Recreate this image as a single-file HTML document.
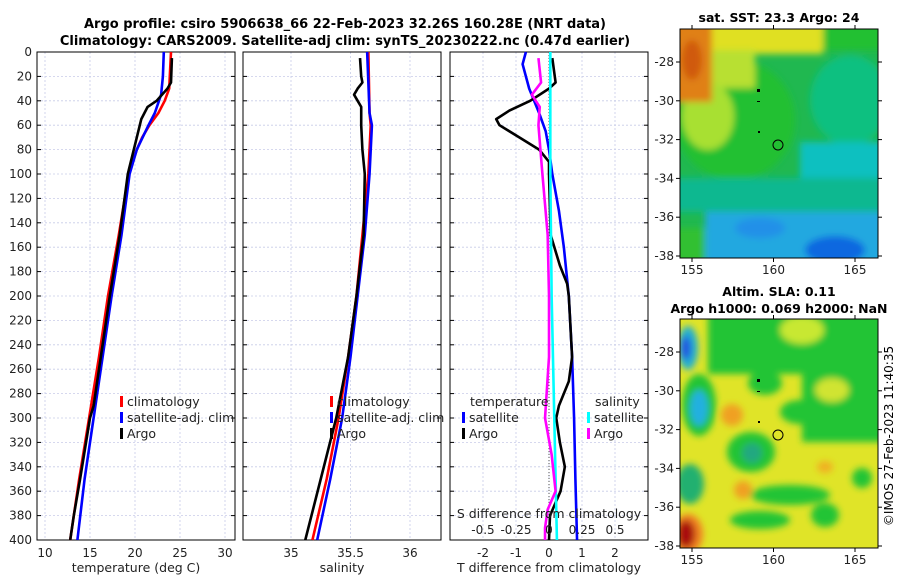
<!DOCTYPE html>
<html><head><meta charset="utf-8"><style>
body{margin:0;background:#fff;}
svg{font-family:"DejaVu Sans","Liberation Sans",sans-serif;}
</style></head><body>
<svg id="c" width="900" height="580" xmlns="http://www.w3.org/2000/svg">
<defs>
<filter id="bl" x="-50%" y="-50%" width="200%" height="200%"><feGaussianBlur stdDeviation="3.5"/></filter>
<clipPath id="cm1"><rect x="680" y="29" width="198" height="229"/></clipPath>
<clipPath id="cm2"><rect x="680" y="319" width="198" height="229"/></clipPath>
</defs>
<text x="345" y="28" text-anchor="middle" font-size="13" font-weight="bold">Argo profile: csiro 5906638_66 22-Feb-2023 32.26S 160.28E (NRT data)</text>
<text x="345" y="45" text-anchor="middle" font-size="13" font-weight="bold">Climatology: CARS2009. Satellite-adj clim: synTS_20230222.nc (0.47d earlier)</text>
<g id="maps">
<g clip-path="url(#cm1)">
<rect x="670" y="20" width="220" height="250" fill="#20b850"/>
<g filter="url(#bl)">
<rect x="700" y="20" width="190" height="30" fill="#20c030"/>
<ellipse cx="735" cy="120" rx="60" ry="60" fill="#22c030"/>
<ellipse cx="850" cy="100" rx="40" ry="45" fill="#10c080"/>
<rect x="800" y="142" width="90" height="56" fill="#10c0c0"/>
<rect x="670" y="178" width="220" height="34" fill="#10b890"/>
<rect x="705" y="212" width="185" height="60" fill="#20a8e0"/>
<ellipse cx="835" cy="250" rx="30" ry="14" fill="#1068e0"/>
<ellipse cx="760" cy="228" rx="25" ry="10" fill="#2090e8"/>
<rect x="670" y="228" width="35" height="40" fill="#30c030"/>
<rect x="708" y="20" width="115" height="34" fill="#e0e020"/>
<rect x="710" y="50" width="45" height="38" fill="#b8e030"/>
<ellipse cx="708" cy="116" rx="26" ry="34" fill="#a8e030"/>
<rect x="670" y="20" width="42" height="82" fill="#e08018"/>
<ellipse cx="692" cy="60" rx="10" ry="20" fill="#d05a10"/>
</g>
<rect x="757" y="89" width="3" height="3" fill="#000"/>
<rect x="757" y="101" width="3" height="1" fill="#000"/>
<rect x="758" y="131" width="2" height="2" fill="#000"/>
</g>
<rect x="680" y="29" width="198" height="229" fill="none" stroke="#000"/>
<circle cx="778" cy="145" r="5" fill="none" stroke="#000"/>
<text x="779" y="22" text-anchor="middle" font-size="12.5" font-weight="bold">sat. SST: 23.3 Argo: 24</text>
<g clip-path="url(#cm2)">
<rect x="670" y="310" width="220" height="250" fill="#e0e428"/>
<g filter="url(#bl)">
<rect x="708" y="312" width="180" height="62" fill="#22c435"/>
<rect x="802" y="370" width="86" height="72" fill="#22c435"/>
<ellipse cx="800" cy="412" rx="20" ry="12" fill="#22c435"/>
<ellipse cx="802" cy="330" rx="22" ry="14" fill="#c8e830"/>
<ellipse cx="832" cy="390" rx="17" ry="12" fill="#d0e430"/>
<ellipse cx="765" cy="383" rx="17" ry="12" fill="#22c435"/>
<ellipse cx="688" cy="348" rx="10" ry="22" fill="#20b0d0"/>
<ellipse cx="686" cy="348" rx="5" ry="12" fill="#2050e0"/>
<ellipse cx="699" cy="405" rx="17" ry="31" fill="#22c435"/>
<ellipse cx="699" cy="408" rx="9" ry="18" fill="#20b0e0"/>
<ellipse cx="751" cy="452" rx="24" ry="20" fill="#22c435"/>
<ellipse cx="752" cy="453" rx="10" ry="10" fill="#20a880"/>
<ellipse cx="690" cy="484" rx="14" ry="20" fill="#20b070"/>
<ellipse cx="790" cy="495" rx="40" ry="10" fill="#22c435"/>
<ellipse cx="760" cy="520" rx="30" ry="9" fill="#22c435"/>
<ellipse cx="825" cy="515" rx="14" ry="12" fill="#22c435"/>
<ellipse cx="862" cy="478" rx="10" ry="10" fill="#22c435"/>
<ellipse cx="732" cy="415" rx="11" ry="11" fill="#f0a020"/>
<ellipse cx="743" cy="490" rx="9" ry="9" fill="#f0a020"/>
<ellipse cx="825" cy="467" rx="8" ry="6" fill="#f0b020"/>
<ellipse cx="688" cy="534" rx="15" ry="20" fill="#f08020"/>
<ellipse cx="686" cy="534" rx="9" ry="14" fill="#a81010"/>
</g>
<rect x="757" y="379" width="3" height="3" fill="#000"/>
<rect x="757" y="391" width="3" height="1" fill="#000"/>
<rect x="758" y="421" width="2" height="2" fill="#000"/>
</g>
<rect x="680" y="319" width="198" height="229" fill="none" stroke="#000"/>
<circle cx="778" cy="435" r="5" fill="none" stroke="#000"/>
<text x="779" y="296" text-anchor="middle" font-size="12.5" font-weight="bold">Altim. SLA: 0.11</text>
<text x="779" y="313" text-anchor="middle" font-size="12.5" font-weight="bold">Argo h1000: 0.069 h2000: NaN</text>
<text transform="translate(893,436) rotate(-90)" text-anchor="middle" font-size="12">©IMOS 27-Feb-2023 11:40:35</text>
</g>
</svg>
<script>
// ---- data ----
const tDepthClim=[0,30,40,50,60,70,80,100,150,200,250,300,350,400];
const tClim=[24,23.8,23.3,22.6,21.6,20.8,20.2,19.3,18.2,17.0,16.0,14.9,13.8,12.8];
const tDepthSat=[0,20,35,50,60,80,100,150,200,250,300,350,400];
const tSat=[23.2,23.1,22.9,22.2,21.5,20.2,19.4,18.5,17.4,16.4,15.4,14.4,13.6];
const tDepthArgo=[5,25,30,40,45,55,70,85,100,150,200,250,290,300,350,380,400];
const tArgo=[24.1,24,23.6,22.4,21.4,20.7,20.2,19.7,19.2,18.3,17.2,16.2,15.4,15.0,13.9,13.2,12.8];
const sDepthClim=[0,50,60,100,150,200,250,300,350,400];
const sClim=[35.65,35.66,35.67,35.65,35.6,35.55,35.48,35.4,35.3,35.18];
const sSat=[35.64,35.66,35.68,35.66,35.62,35.56,35.5,35.43,35.33,35.22];
const sDepthArgo=[5,20,25,30,35,40,45,60,80,100,150,200,250,300,350,400];
const sArgo=[35.58,35.59,35.6,35.56,35.53,35.56,35.59,35.59,35.6,35.62,35.61,35.55,35.48,35.38,35.25,35.12];
const dDepthTSat=[0,10,30,50,65,80,100,130,160,200,250,300,350,400];
const dTSat=[-0.7,-0.8,-0.6,-0.3,-0.1,0,0.1,0.3,0.45,0.6,0.7,0.76,0.8,0.85];
const dDepthTArgo=[5,25,30,40,48,55,60,70,80,90,100,150,175,190,200,250,270,290,300,320,340,360,380,400];
const dTArgo=[0.1,0.2,0,-0.57,-1.2,-1.6,-1.5,-0.9,-0.3,0,0,0.05,0.33,0.55,0.6,0.7,0.6,0.3,0.22,0.33,0.48,0.35,0.03,0];
const dDepthSSat=[0,100,200,300,400];
const dSSat=[0.01,0.01,0.02,0.04,0.06];
const dDepthSArgo=[5,25,35,45,60,100,150,200,250,300,330,360,375,390,400];
const dSArgo=[-0.08,-0.06,-0.13,-0.07,-0.08,-0.05,-0.01,0,0,-0.03,0.02,0.05,-0.01,-0.03,-0.03];
const depthTicks=[0,20,40,60,80,100,120,140,160,180,200,220,240,260,280,300,320,340,360,380,400];
const tTicks=[10,15,20,25,30];
const sTicks=[35,35.5,36];
const dTTicks=[-2,-1,0,1,2];
const dSTicks=[-0.5,-0.25,0,0.25,0.5];
const latTicks=[-28,-30,-32,-34,-36,-38];
const lonTicks=[155,160,165];
// ---- axes ----
const NS='http://www.w3.org/2000/svg';
const svg=document.getElementById('c');
function mk(tag,attrs,parent){const e=document.createElementNS(NS,tag);for(const k in attrs)e.setAttribute(k,attrs[k]);(parent||svg).appendChild(e);return e;}
const Y0=52,Y1=540;
const yD=d=>Y0+d*(Y1-Y0)/400;
const P1={l:37,r:235},P2={l:243,r:441},P3={l:450,r:648};
const x1=v=>45+(v-10)*9;
const x2=v=>291+(v-35)*119;
const x3=v=>549+v*33;
const x3s=v=>549+v*132;
function panel(P,name,xt,xf,xlabel,showY){
  const g=mk('g',{});
  
  
  depthTicks.forEach(d=>{const l=mk('line',{x1:P.l,x2:P.r,y1:yD(d),y2:yD(d),stroke:'#c8cce8','stroke-dasharray':'2,2','stroke-width':0.8},g);
    mk('line',{x1:P.l,x2:P.l+4,y1:yD(d),y2:yD(d),stroke:'#000'},g);mk('line',{x1:P.r-4,x2:P.r,y1:yD(d),y2:yD(d),stroke:'#000'},g);
    if(showY){const t=mk('text',{x:P.l-5,y:yD(d)+4,'text-anchor':'end','font-size':12,fill:'#222'},g);t.textContent=d;}});
  xt.forEach(v=>{const l=mk('line',{x1:xf(v),x2:xf(v),y1:Y0,y2:Y1,stroke:'#c8cce8','stroke-dasharray':'2,2','stroke-width':0.8},g);
    const t=mk('text',{x:xf(v),y:557,'text-anchor':'middle','font-size':12,fill:'#222'},g);t.textContent=v;});
  const b=mk('rect',{x:P.l,y:Y0,width:P.r-P.l,height:Y1-Y0,fill:'none',stroke:'#000'},g);
  const xl=mk('text',{x:(P.l+P.r)/2,y:572,'text-anchor':'middle','font-size':12.5,fill:'#222'},g);xl.textContent=xlabel;
}
panel(P1,'temperature-panel',tTicks,x1,'temperature (deg C)',true);
panel(P2,'salinity-panel',sTicks,x2,'salinity',false);
panel(P3,'difference-panel',dTTicks,x3,'T difference from climatology',false);
mk('line',{x1:549,x2:549,y1:Y0,y2:Y1,stroke:'#555','stroke-dasharray':'1,2'});
function line(ds,vs,xf,col,name){const p=mk('polyline',{points:ds.map((d,i)=>xf(vs[i])+','+yD(d)).join(' '),fill:'none',stroke:col,'stroke-width':2.6,'stroke-linejoin':'round'});}
line(tDepthClim,tClim,x1,'#f00','temp-climatology-line');
line(tDepthSat,tSat,x1,'#00f','temp-satellite-line');
line(tDepthArgo,tArgo,x1,'#000','temp-argo-line');
line(sDepthClim,sClim,x2,'#f00','sal-climatology-line');
line(sDepthClim,sSat,x2,'#00f','sal-satellite-line');
line(sDepthArgo,sArgo,x2,'#000','sal-argo-line');
line(dDepthTSat,dTSat,x3,'#00f','dT-satellite-line');
line(dDepthTArgo,dTArgo,x3,'#000','dT-argo-line');
line(dDepthSSat,dSSat,x3s,'#0ff','dS-satellite-line');
line(dDepthSArgo,dSArgo,x3s,'#f0f','dS-argo-line');
function leg(x,y,col,txt){const g=mk('g',{});
  if(col)mk('rect',{x:x,y:y-9,width:3,height:11,fill:col},g);
  const t=mk('text',{x:x+7,y:y+1,'font-size':12.5,fill:'#222'},g);t.textContent=txt;}
leg(120,405,'#f00','climatology');leg(120,421,'#00f','satellite-adj. clim');leg(120,437,'#000','Argo');
leg(330,405,'#f00','climatology');leg(330,421,'#00f','satellite-adj. clim');leg(330,437,'#000','Argo');
leg(463,405,null,'temperature');leg(462,421,'#00f','satellite');leg(462,437,'#000','Argo');
leg(588,405,null,'salinity');leg(587,421,'#0ff','satellite');leg(587,437,'#f0f','Argo');
const st=mk('text',{x:549,y:518,'text-anchor':'middle','font-size':12.5,fill:'#222'});st.textContent='S difference from climatology';


dSTicks.forEach(v=>{const t=mk('text',{x:x3s(v),y:534,'text-anchor':'middle','font-size':12,fill:'#222'});t.textContent=v;

});
// map ticks
[[29,62,256],[319,352,546]].forEach(([top,yA,yB])=>{
  latTicks.forEach(v=>{const y=yA+(-28-v)*(yB-yA)/10;const t=mk('text',{x:674,y:y+4,'text-anchor':'end','font-size':12,fill:'#222'});t.textContent=v;
  
  
  mk('line',{x1:878,x2:882,y1:y,y2:y,stroke:'#000'});mk('line',{x1:676,x2:680,y1:y,y2:y,stroke:'#000'});});
  lonTicks.forEach(v=>{const x=692+(v-155)*16.3;const t=mk('text',{x:x,y:top+229+16,'text-anchor':'middle','font-size':12,fill:'#222'});t.textContent=v;
  
  
  mk('line',{x1:x,x2:x,y1:top-4,y2:top,stroke:'#000'});mk('line',{x1:x,x2:x,y1:top+229,y2:top+233,stroke:'#000'});});
});
</script>
</body></html>
